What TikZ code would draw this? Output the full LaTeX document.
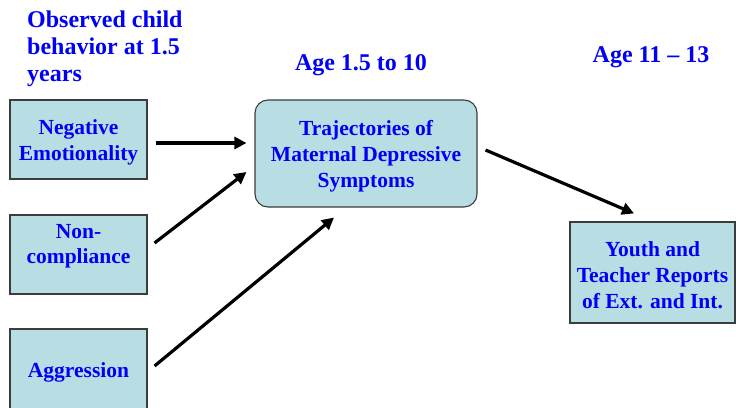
\documentclass[tikz,border=0pt]{standalone}
\usepackage{fontspec}
\setmainfont{Liberation Serif}
\usetikzlibrary{arrows.meta}
\definecolor{boxfill}{RGB}{184,222,227}
\definecolor{boxline}{RGB}{60,60,60}
\definecolor{txtblue}{RGB}{0,0,245}
\newcommand{\tstrut}{\rule{0pt}{20.5pt}}
\tikzset{
  sqbox/.style={draw=boxline, line width=1.1pt, fill=boxfill, minimum width=137pt, inner sep=0pt, align=center,
    text=txtblue, font=\bfseries\fontsize{21.5}{25.7}\selectfont},
  hdr/.style={text=txtblue, inner sep=0pt, font=\bfseries\fontsize{24}{27}\selectfont},
  conn/.style={line width=3.2pt, -{Triangle[length=12pt,width=12pt]}}
}
\begin{document}
\begin{tikzpicture}[x=1pt,y=-1pt]
\useasboundingbox (0,0) rectangle (736,407);
% header texts
\node[hdr, anchor=north west, align=left] (h1) at (27,11) {Observed child\\behavior at 1.5\\years};
\node[hdr, anchor=base] (h2) at (361,70) {Age 1.5 to 10};
\node[hdr, anchor=base] (h3) at (651,62) {Age 11 -- 13};
% boxes
\node[sqbox, minimum height=79pt] (ne) at (78.5,139.5) {\tstrut Negative\\Emotionality};
\node[sqbox, minimum height=79pt] (nc) at (78.5,254.5) {\tstrut Non-\\compliance\\[-6pt]\strut};
\node[sqbox, minimum height=82pt] (ag) at (78.5,370) {\tstrut Aggression};
\node[sqbox, rounded corners=13pt, minimum width=222pt, minimum height=107pt] (tr) at (366,153.5) {\tstrut Trajectories of\\Maternal Depressive\\Symptoms};
\node[sqbox, minimum width=165pt, minimum height=101pt] (yt) at (652.5,272.5) {\tstrut Youth and\\Teacher Reports\\of Ext. and Int.};
% connectors
\draw[conn] ([xshift=8pt,yshift=-3.5pt]ne.east) -- ([xshift=-8pt,yshift=10.5pt]tr.west);
\draw[conn] ([xshift=7pt,yshift=11.5pt]nc.east) -- ([xshift=-8pt,yshift=-18.5pt]tr.west);
\draw[conn] ([xshift=7pt,yshift=4pt]ag.east) -- ([xshift=-32pt,yshift=-10pt]tr.south);
\draw[conn] ([xshift=8pt,yshift=3.5pt]tr.east) -- ([xshift=-18.5pt,yshift=8pt]yt.north);
\end{tikzpicture}
\end{document}
